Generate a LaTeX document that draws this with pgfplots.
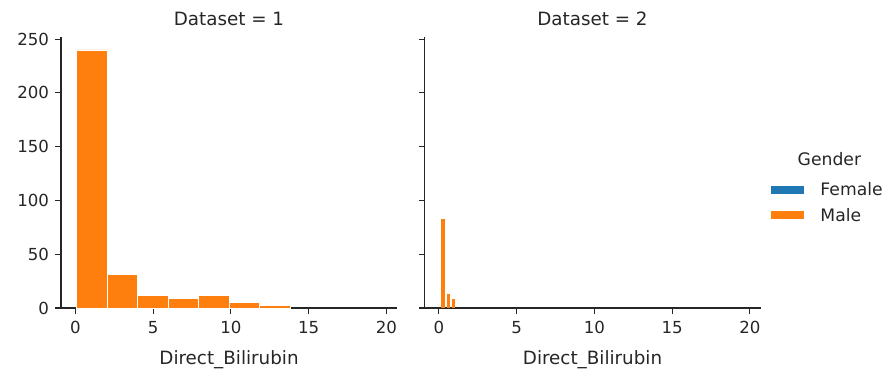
\documentclass[border=0pt]{standalone}
\usepackage{fontspec}
\setmainfont{DejaVu Sans}
\usepackage{pgfplots}
\pgfplotsset{compat=1.18}
\definecolor{mplblue}{HTML}{1F77B4}
\definecolor{mplorange}{HTML}{FF7F0E}
\definecolor{axc}{HTML}{262626}
\newcommand{\fs}{\fontsize{16.6bp}{19bp}\selectfont}
\newcommand{\fl}{\fontsize{18.3bp}{21bp}\selectfont}
\newcommand{\fg}{\fontsize{17.2bp}{20bp}\selectfont}
\pgfplotsset{
  facet/.style={
    scale only axis, width=336bp, height=271bp,
    anchor=south west,
    xmin=-0.92, xmax=20.68, ymin=0, ymax=252,
    axis lines=left,
    axis line style={-, line width=1.1bp, draw=axc},
    tick align=outside, major tick length=5.5bp,
    every tick/.style={line width=1.1bp, draw=axc},
    xtick={0,5,10,15,20}, ytick={0,50,100,150,200,250},
    tick label style={font=\fs, text=axc},
    xticklabel style={yshift=-4bp},
    yticklabel style={xshift=-3bp},
    /pgf/number format/assume math mode=true,
    xlabel={Direct\_Bilirubin},
    xlabel style={font=\fl, text=axc, at={(0.5,0)}, anchor=base, yshift=-56bp},
    title style={font=\fl, text=axc, at={(0.5,1)}, anchor=base, yshift=6bp},
    clip=false,
  }
}
\begin{document}
\begin{tikzpicture}
\path (0,0) rectangle (890bp,370bp);
\begin{axis}[facet, at={(61bp,62bp)}, title={Dataset = 1}]
\addplot[ybar interval, fill=mplorange, draw=white, line width=0.8bp]
  coordinates {(0.1,240)(2.06,31)(4.02,12)(5.98,9)(7.94,12)(9.9,5)(11.86,2)(13.82,0)};
\end{axis}
\begin{axis}[facet, at={(424.5bp,62bp)}, title={Dataset = 2}, yticklabels={},
  legend style={at={(1.0327,0.3886)}, anchor=west, draw=none, fill=none,
    inner sep=0pt, outer sep=0pt, row sep=11bp,
    nodes={inner sep=0pt, font=\fg, text=axc}},
  legend cell align=left]
\addlegendimage{draw=none, legend image code/.code={\fill[mplblue] (0bp,-4bp) rectangle (33bp,4bp); \path[draw=none] (0bp,0bp) -- (49bp,0bp);}}
\addlegendentry{Female}
\addlegendimage{draw=none, legend image code/.code={\fill[mplorange] (0bp,-4bp) rectangle (33bp,4bp); \path[draw=none] (0bp,0bp) -- (49bp,0bp);}}
\addlegendentry{Male}
\addplot[ybar interval, fill=mplorange, draw=none, forget plot] coordinates {(0.13,83)(0.37,0)};
\addplot[ybar interval, fill=mplorange, draw=none, forget plot] coordinates {(0.5,13)(0.73,0)};
\addplot[ybar interval, fill=mplorange, draw=none, forget plot] coordinates {(0.86,8)(1.07,0)};
\node[font=\fg, text=axc, anchor=base] at (rel axis cs:1.205,0.525) {Gender};
\end{axis}
\end{tikzpicture}
\end{document}
